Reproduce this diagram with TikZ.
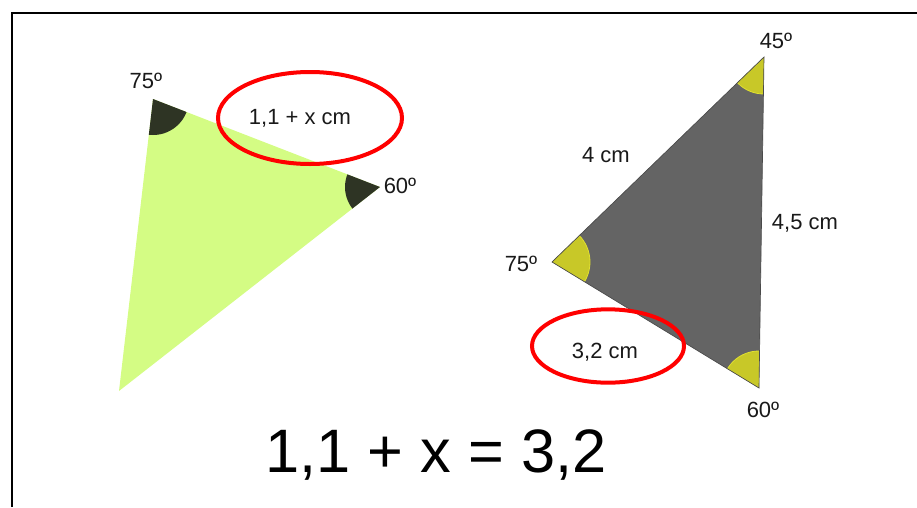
\documentclass[tikz,border=0pt]{standalone}
\usepackage{fontspec}
\setmainfont{Liberation Sans}
\usetikzlibrary{shapes.geometric}
\definecolor{lgreen}{HTML}{D4FC84}
\definecolor{darksec}{HTML}{2E3424}
\definecolor{tgray}{HTML}{646464}
\definecolor{tedge}{HTML}{4A4A4A}
\definecolor{ysec}{HTML}{C8C828}
\definecolor{yedge}{HTML}{E0E030}
\tikzset{
  lbl/.style={inner sep=0pt, font=\fontsize{16.5}{18}\selectfont, text=black!90},
  ring/.style={draw=red, line width=3pt},
}
\begin{document}
\begin{tikzpicture}[x=0.75pt,y=-0.75pt]
\useasboundingbox (0,0) rectangle (917,507);
% frame
\coordinate (f1) at (12,507);
\coordinate (f2) at (12,13);
\coordinate (f3) at (917,13);
\draw[line width=1.5pt] (f1) -- (f2) -- (f3);
% left triangle
\coordinate (A) at (153,99);
\coordinate (B) at (380,187);
\coordinate (C) at (119,391);
\fill[lgreen] (A) -- (B) -- (C) -- cycle;
\begin{scope}
  \clip (A) -- (B) -- (C) -- cycle;
  \fill[darksec] (A) circle[radius=36];
  \fill[darksec] (B) circle[radius=35];
\end{scope}
% right triangle
\coordinate (P) at (764,57);
\coordinate (Q) at (552,262);
\coordinate (R) at (759,388);
\fill[tgray] (P) -- (Q) -- (R) -- cycle;
\begin{scope}
  \clip (P) -- (Q) -- (R) -- cycle;
  \filldraw[fill=ysec, draw=yedge, line width=0.6pt] (P) circle[radius=37];
  \filldraw[fill=ysec, draw=yedge, line width=0.6pt] (Q) circle[radius=38];
  \filldraw[fill=ysec, draw=yedge, line width=0.6pt] (R) circle[radius=37];
\end{scope}
\draw[tedge, line width=0.5pt] (P) -- (Q) -- (R) -- cycle;
% ellipses
\node[ring, ellipse, minimum width=138pt, minimum height=69pt, inner sep=0pt] (e1) at (310,118) {};
\node[ring, ellipse, minimum width=114pt, minimum height=55pt, inner sep=0pt] (e2) at (608,346) {};
% labels
\node[lbl] (t1) at (300,118) {1,1 + x cm};
\node[lbl] (t2) at (605,352) {3,2 cm};
\node[lbl] (a75) at (146,81) {75º};
\node[lbl] (a60) at (400,186) {60º};
\node[lbl] (b45) at (776,41) {45º};
\node[lbl] (b75) at (521,264) {75º};
\node[lbl] (b60) at (763,410) {60º};
\node[lbl] (s4) at (606,155) {4 cm};
\node[lbl] (s45) at (805,223) {4,5 cm};
\node[inner sep=0pt, font=\fontsize{46}{50}\selectfont, text=black] (eq) at (436,455) {1,1 + x = 3,2};
\end{tikzpicture}
\end{document}
